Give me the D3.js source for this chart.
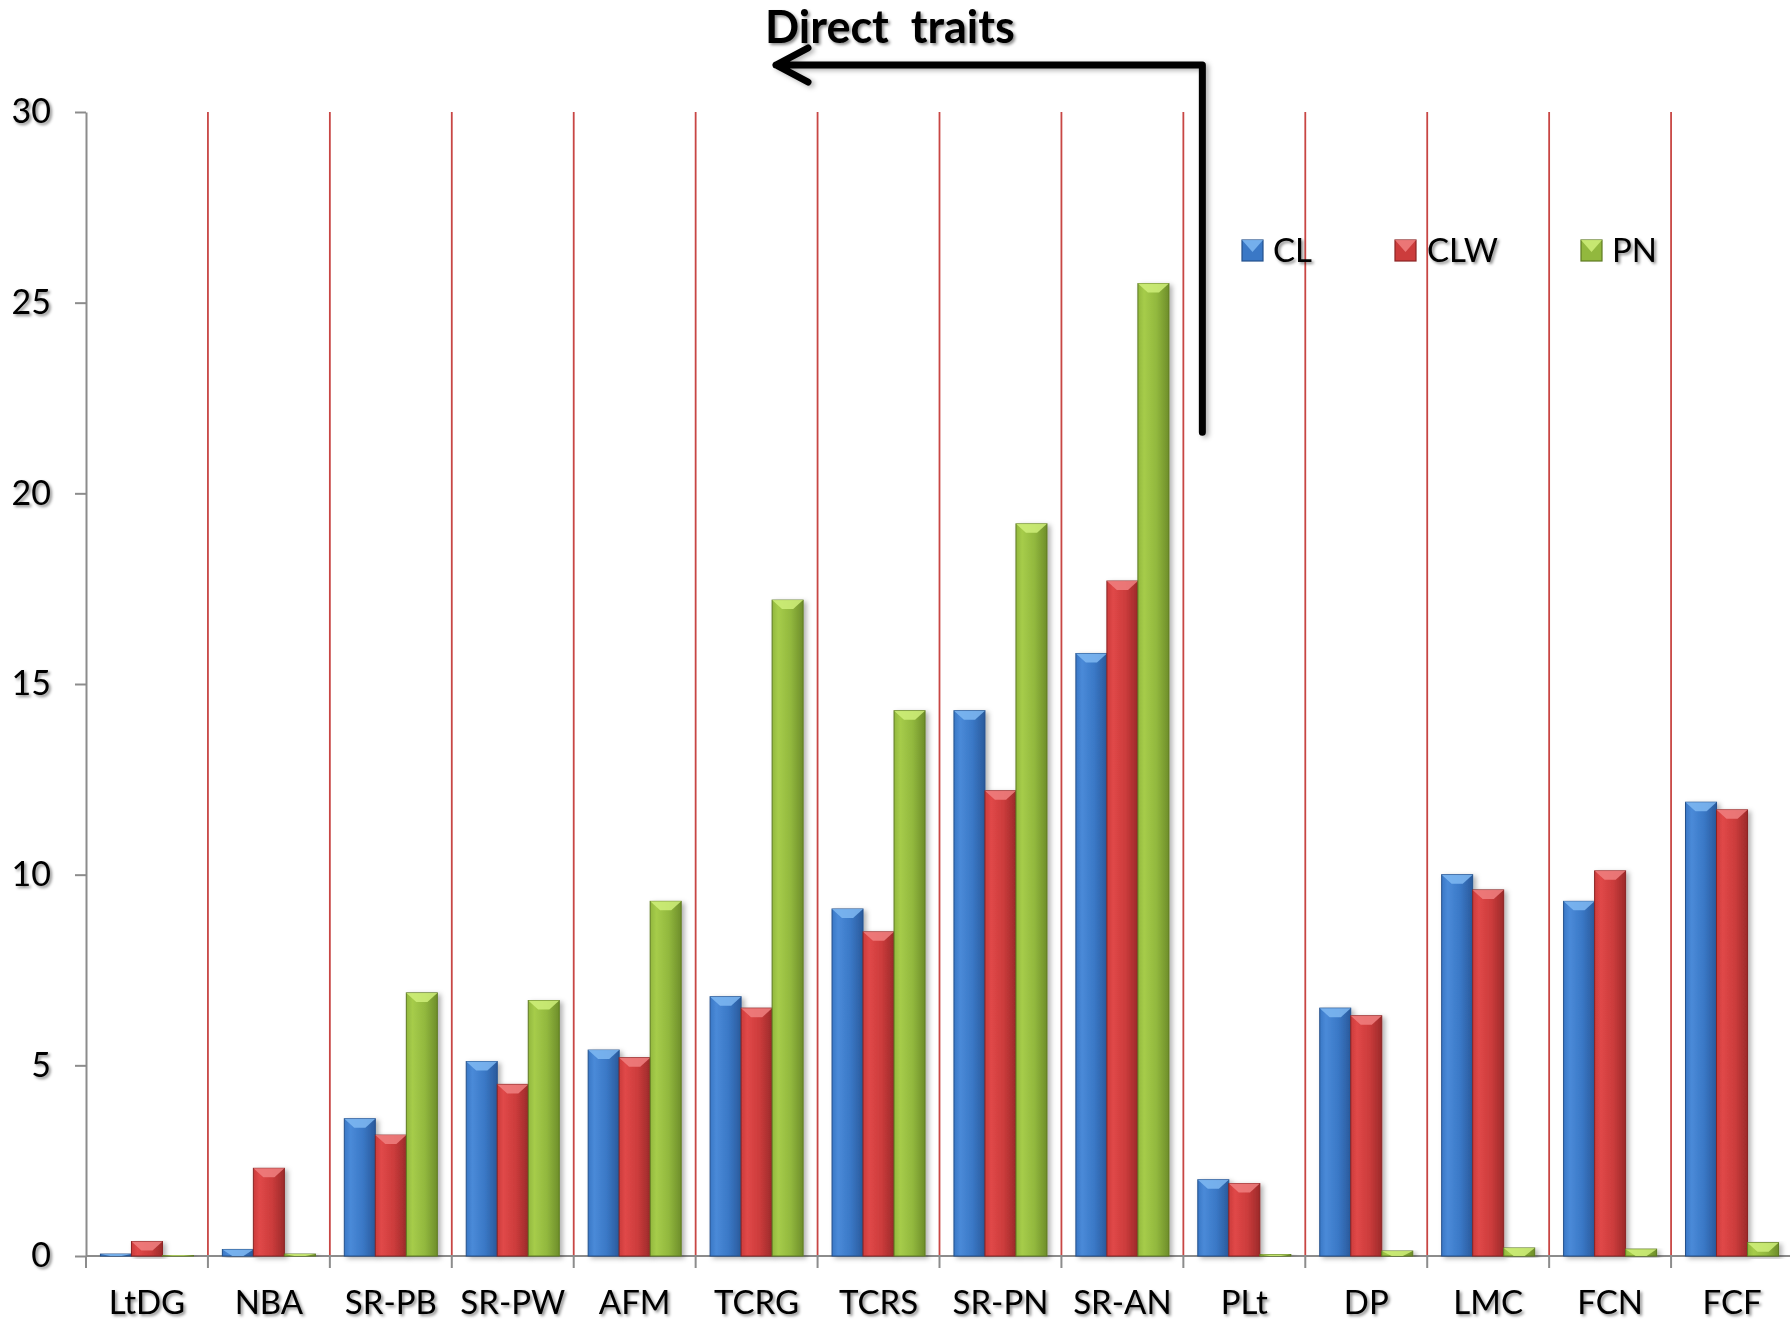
<!DOCTYPE html>
<html>
<head>
<meta charset="utf-8">
<script src="https://cdn.jsdelivr.net/npm/d3@7/dist/d3.min.js"></script>
<style>
  html, body { margin: 0; padding: 0; background: #ffffff; }
  svg { display: block; }
  text { font-family: Lato, "Open Sans", sans-serif; fill: #000; }
</style>
</head>
<body>
<svg id="chart" width="1790" height="1323"></svg>
<script>
// Categories (traits) along the x axis
const categories = ["LtDG", "NBA", "SR-PB", "SR-PW", "AFM", "TCRG", "TCRS", "SR-PN", "SR-AN", "PLt", "DP", "LMC", "FCN", "FCF"];
// Series names
const seriesNames = ["CL", "CLW", "PN"];
// Series values, one per category
const clValues  = [0.05, 0.17, 3.6, 5.1, 5.4, 6.8, 9.1, 14.3, 15.8, 2.0, 6.5, 10.0, 9.3, 11.9];
const clwValues = [0.38, 2.3, 3.17, 4.5, 5.2, 6.5, 8.5, 12.2, 17.7, 1.9, 6.3, 9.6, 10.1, 11.7];
const pnValues  = [0.02, 0.05, 6.9, 6.7, 9.3, 17.2, 14.3, 19.2, 25.5, 0.04, 0.13, 0.21, 0.18, 0.35];
// Y axis tick labels
const yTicks = [0, 5, 10, 15, 20, 25, 30];

const seriesValues = [clValues, clwValues, pnValues];

// Bar colour schemes: light edge, base, dark edge, bevel highlight, outline
const palette = {
  CL:  { light: "#4a8ad8", base: "#3a78c6", dark: "#2a5a9c", bevel: "#7fb8f2", stroke: "#23508c" },
  CLW: { light: "#e04848", base: "#cc3c3c", dark: "#9c2a2a", bevel: "#f08080", stroke: "#8a2424" },
  PN:  { light: "#a6cc4a", base: "#92b83e", dark: "#6e8e2a", bevel: "#cfee7a", stroke: "#5e7a22" }
};

const svg = d3.select("#chart");
const plotLeft = 86, plotRight = 1793, plotTop = 112, plotBottom = 1256;

const x0 = d3.scaleBand().domain(categories).range([plotLeft, plotRight]).padding(0);
const x1 = d3.scaleBand().domain(seriesNames).range([0, x0.bandwidth()]).paddingInner(0).paddingOuter(0.466);
const y = d3.scaleLinear().domain([0, 30]).range([plotBottom, plotTop]);

const defs = svg.append("defs");

// horizontal shading for each series
seriesNames.forEach(s => {
  const p = palette[s];
  const g = defs.append("linearGradient").attr("id", "grad-" + s)
    .attr("x1", "0%").attr("x2", "100%").attr("y1", "0%").attr("y2", "0%");
  g.append("stop").attr("offset", "0%").attr("stop-color", p.base);
  g.append("stop").attr("offset", "20%").attr("stop-color", p.light);
  g.append("stop").attr("offset", "60%").attr("stop-color", p.base);
  g.append("stop").attr("offset", "100%").attr("stop-color", p.dark);
});

// soft shadow for text
const ts = defs.append("filter").attr("id", "textShadow")
  .attr("x", "-10%").attr("y", "-20%").attr("width", "130%").attr("height", "150%");
ts.append("feDropShadow").attr("dx", 2).attr("dy", 2).attr("stdDeviation", 1.5)
  .attr("flood-color", "#000").attr("flood-opacity", 0.45);

// soft shadow for bars and the arrow
const bs = defs.append("filter").attr("id", "barShadow")
  .attr("x", "-30%").attr("y", "-10%").attr("width", "170%").attr("height", "130%");
bs.append("feDropShadow").attr("dx", 3).attr("dy", 2).attr("stdDeviation", 2.5)
  .attr("flood-color", "#000").attr("flood-opacity", 0.3);

// red vertical separators between categories
svg.append("g").selectAll("line")
  .data(categories.slice(1))
  .join("line")
  .attr("x1", d => x0(d)).attr("x2", d => x0(d))
  .attr("y1", y(30)).attr("y2", y(0))
  .attr("stroke", "#c84644").attr("stroke-width", 1.8);

// Y axis
const yAxis = svg.append("g")
  .attr("transform", `translate(${plotLeft},0)`)
  .call(d3.axisLeft(y).tickValues(yTicks).tickSize(11).tickSizeOuter(0).tickPadding(24).tickFormat(d3.format("d")));
yAxis.select(".domain").attr("stroke", "#8c8c8c").attr("stroke-width", 2);
yAxis.selectAll(".tick line").attr("stroke", "#8c8c8c").attr("stroke-width", 2);
yAxis.selectAll(".tick text")
  .attr("font-size", 34).attr("font-family", "Lato, sans-serif").attr("fill", "#000")
  .attr("filter", "url(#textShadow)");

// baseline and category ticks
svg.append("line")
  .attr("x1", plotLeft).attr("x2", plotRight).attr("y1", y(0)).attr("y2", y(0))
  .attr("stroke", "#8c8c8c").attr("stroke-width", 2);
svg.append("g").selectAll("line")
  .data(categories.map(c => x0(c)).concat([x0.range()[1]]))
  .join("line")
  .attr("x1", d => d).attr("x2", d => d)
  .attr("y1", y(0)).attr("y2", y(0) + 12)
  .attr("stroke", "#8c8c8c").attr("stroke-width", 2);

// category labels
const xAxis = svg.append("g")
  .attr("transform", `translate(0,${plotBottom})`)
  .call(d3.axisBottom(x0).tickSize(0).tickPadding(35));
xAxis.select(".domain").remove();
xAxis.selectAll(".tick text")
  .attr("font-size", 33).attr("font-family", "Lato, sans-serif").attr("fill", "#000")
  .attr("filter", "url(#textShadow)");

// bars
const rows = categories.map((c, i) => ({
  cat: c,
  bars: seriesNames.map((s, j) => ({ cat: c, series: s, value: seriesValues[j][i] }))
}));

const groups = svg.append("g").selectAll("g")
  .data(rows)
  .join("g")
  .attr("transform", d => `translate(${x0(d.cat)},0)`);

const bar = groups.selectAll("g.bar")
  .data(d => d.bars)
  .join("g")
  .attr("class", "bar")
  .attr("filter", "url(#barShadow)");

bar.append("rect")
  .attr("x", d => x1(d.series))
  .attr("y", d => y(d.value))
  .attr("width", x1.bandwidth())
  .attr("height", d => y(0) - y(d.value))
  .attr("fill", d => `url(#grad-${d.series})`)
  .attr("stroke", d => palette[d.series].stroke)
  .attr("stroke-width", 1);

// bevelled top facet
bar.append("path")
  .attr("d", d => {
    const bx = x1(d.series), w = x1.bandwidth();
    const ty = y(d.value);
    const dep = Math.min(9, y(0) - ty);
    return `M${bx},${ty} L${bx + w},${ty} L${bx + w * 0.68},${ty + dep} L${bx + w * 0.32},${ty + dep} Z`;
  })
  .attr("fill", d => palette[d.series].bevel)
  .attr("opacity", 0.85);

// legend
const legendItems = [
  { name: "CL", sx: 1242, tx: 1273 },
  { name: "CLW", sx: 1395, tx: 1427 },
  { name: "PN", sx: 1581, tx: 1612 }
];
const lg = svg.append("g").selectAll("g").data(legendItems).join("g");
lg.append("rect")
  .attr("x", d => d.sx).attr("y", 240).attr("width", 21).attr("height", 21)
  .attr("fill", d => palette[d.name].base)
  .attr("stroke", d => palette[d.name].stroke).attr("stroke-width", 1.2);
lg.append("path")
  .attr("d", d => `M${d.sx},${240} L${d.sx + 21},${240} L${d.sx + 10.5},${252} Z`)
  .attr("fill", d => palette[d.name].bevel).attr("opacity", 0.85);
lg.append("text")
  .attr("x", d => d.tx).attr("y", 262)
  .attr("font-size", 33)
  .attr("filter", "url(#textShadow)")
  .text(d => d.name);

// annotation: title with bent arrow
svg.append("text")
  .attr("x", 765).attr("y", 43)
  .attr("font-size", 45).attr("font-weight", 700)
  .style("white-space", "pre")
  .attr("filter", "url(#textShadow)")
  .text("Direct  traits");

const arrowX = x0("PLt") + 19;
const arrowTop = 65;
const tipX = 776;
svg.append("path")
  .attr("d", `M${arrowX},${y(21.6)} L${arrowX},${arrowTop} L${tipX},${arrowTop} M${tipX + 32},${arrowTop - 17} L${tipX},${arrowTop} L${tipX + 32},${arrowTop + 17}`)
  .attr("fill", "none")
  .attr("stroke", "#000")
  .attr("stroke-width", 7)
  .attr("stroke-linecap", "round")
  .attr("stroke-linejoin", "round")
  .attr("filter", "url(#barShadow)");
</script>
</body>
</html>
